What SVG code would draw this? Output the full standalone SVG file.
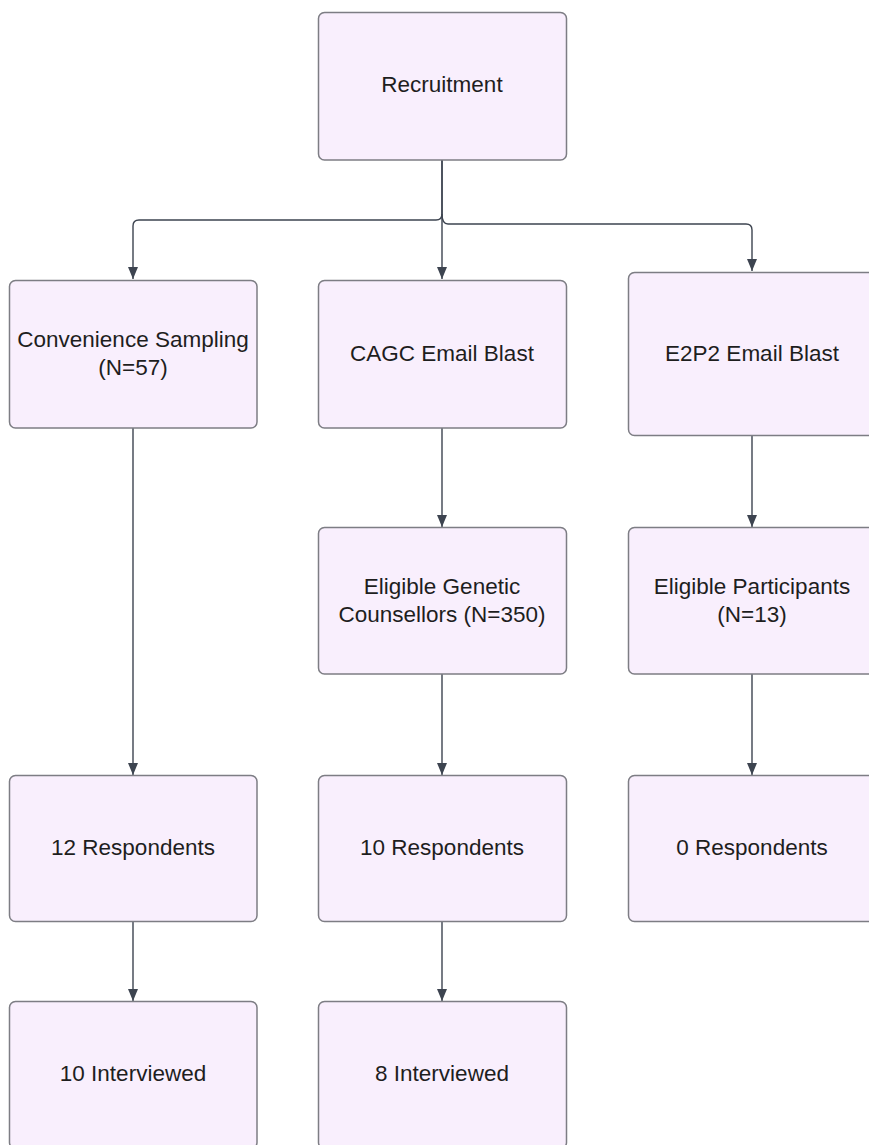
<svg xmlns="http://www.w3.org/2000/svg" width="869" height="1145" viewBox="0 0 869 1145">
<style>
.box{fill:#f9effd;stroke:#7d7d84;stroke-width:1.5}
.lbl{font-family:"Liberation Sans",Arial,sans-serif;font-size:22.5px;fill:#1e1e1e;text-anchor:middle}
.con{fill:none;stroke:#3d4450;stroke-width:1.4;marker-end:url(#ah)}
</style>
<defs>
<marker id="ah" viewBox="0 0 12 10" refX="12" refY="5" markerWidth="12" markerHeight="10" markerUnits="userSpaceOnUse" orient="auto">
<path d="M0,0 L12,5 L0,10 Z" fill="#3d4450"/>
</marker>
</defs>
<rect width="869" height="1145" fill="#ffffff"/>
<g id="connectors">
<path class="con" d="M442,160 V214 Q442,220 436,220 H139 Q133,220 133,226 V279"/>
<path class="con" d="M442,160 V279"/>
<path class="con" d="M442,214 Q442,224 448,224 H746 Q752,224 752,230 V271"/>
<path class="con" d="M133,428 V775"/>
<path class="con" d="M133,921 V1001"/>
<path class="con" d="M442,428 V527"/>
<path class="con" d="M442,674 V775"/>
<path class="con" d="M442,921 V1001"/>
<path class="con" d="M752,436 V527"/>
<path class="con" d="M752,674 V775"/>
</g>
<g id="recruitment">
<rect class="box" x="318.5" y="12.5" width="248" height="147.5" rx="6"/>
<text class="lbl" x="442" y="92">Recruitment</text>
</g>
<g id="convenience">
<rect class="box" x="9.5" y="280.5" width="247.5" height="147.5" rx="6"/>
<text class="lbl" x="133" y="347">Convenience Sampling</text>
<text class="lbl" x="133" y="375">(N=57)</text>
</g>
<g id="cagc">
<rect class="box" x="318.5" y="280.5" width="248" height="147.5" rx="6"/>
<text class="lbl" x="442" y="361">CAGC Email Blast</text>
</g>
<g id="e2p2">
<rect class="box" x="628.5" y="272.5" width="248" height="163" rx="6"/>
<text class="lbl" x="752" y="361">E2P2 Email Blast</text>
</g>
<g id="eligible-gc">
<rect class="box" x="318.5" y="527.5" width="248" height="146.5" rx="6"/>
<text class="lbl" x="442" y="594">Eligible Genetic</text>
<text class="lbl" x="442" y="622">Counsellors (N=350)</text>
</g>
<g id="eligible-p">
<rect class="box" x="628.5" y="527.5" width="248" height="146.5" rx="6"/>
<text class="lbl" x="752" y="594">Eligible Participants</text>
<text class="lbl" x="752" y="622">(N=13)</text>
</g>
<g id="resp12">
<rect class="box" x="9.5" y="775.5" width="247.5" height="146" rx="6"/>
<text class="lbl" x="133" y="855">12 Respondents</text>
</g>
<g id="resp10">
<rect class="box" x="318.5" y="775.5" width="248" height="146" rx="6"/>
<text class="lbl" x="442" y="855">10 Respondents</text>
</g>
<g id="resp0">
<rect class="box" x="628.5" y="775.5" width="248" height="146" rx="6"/>
<text class="lbl" x="752" y="855">0 Respondents</text>
</g>
<g id="int10">
<rect class="box" x="9.5" y="1001.5" width="247.5" height="147" rx="6"/>
<text class="lbl" x="133" y="1081">10 Interviewed</text>
</g>
<g id="int8">
<rect class="box" x="318.5" y="1001.5" width="248" height="147" rx="6"/>
<text class="lbl" x="442" y="1081">8 Interviewed</text>
</g>
</svg>
